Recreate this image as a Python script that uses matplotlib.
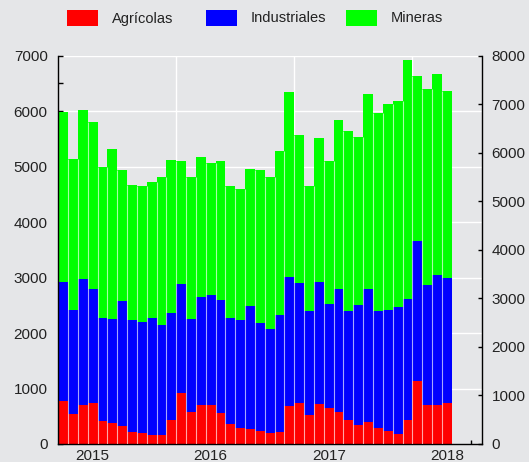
import matplotlib
matplotlib.use("Agg")
import matplotlib.pyplot as plt
from matplotlib.ticker import FixedLocator, MultipleLocator
from matplotlib.patches import Rectangle
import numpy as np

# Monthly data, Oct 2014 .. Jan 2018
months = ["2014-10", "2014-11", "2014-12",
          "2015-01", "2015-02", "2015-03", "2015-04", "2015-05", "2015-06",
          "2015-07", "2015-08", "2015-09", "2015-10", "2015-11", "2015-12",
          "2016-01", "2016-02", "2016-03", "2016-04", "2016-05", "2016-06",
          "2016-07", "2016-08", "2016-09", "2016-10", "2016-11", "2016-12",
          "2017-01", "2017-02", "2017-03", "2017-04", "2017-05", "2017-06",
          "2017-07", "2017-08", "2017-09", "2017-10", "2017-11", "2017-12",
          "2018-01"]

agricolas = [773, 548, 702, 732, 414, 372, 330, 216, 198, 160, 160, 432, 928, 582,
             698, 710, 559, 354, 294, 270, 234, 200, 216, 691, 740, 520, 728, 643,
             577, 427, 346, 391, 283, 228, 186, 427, 1130, 710, 704, 740]

industriales = [2155, 1871, 2268, 2070, 1855, 1885, 2239, 2012, 2006, 2109, 1984, 1933,
                1964, 1675, 1949, 1979, 2034, 1915, 1934, 2221, 1946, 1880, 2111, 2322,
                2164, 1879, 2194, 1889, 2219, 1972, 2168, 2405, 2116, 2189, 2279, 2189,
                2524, 2164, 2345, 2255]

mineras = [3064, 2715, 3052, 3010, 2733, 3063, 2379, 2444, 2456, 2451, 2672, 2763,
           2218, 2559, 2529, 2385, 2517, 2391, 2378, 2475, 2768, 2736, 2957, 3327,
           2674, 2261, 2590, 2566, 3040, 3251, 3022, 3514, 3563, 3719, 3713, 4306,
           2986, 3532, 3627, 3369]

year_labels = ["2015", "2016", "2017", "2018"]
series_names = ["Agrícolas", "Industriales", "Mineras"]
colors = ["#ff0000", "#0000ff", "#00ff00"]

plt.rcParams['font.family'] = ['Liberation Sans', 'DejaVu Sans']
BG = "#e5e6e8"
TXT = "#222222"

fig = plt.figure(figsize=(5.29, 4.62), dpi=100, facecolor=BG)
ax = fig.add_axes([0.110, 0.039, 0.8006, 0.8404], facecolor=BG)

x = np.arange(len(months))
a = np.array(agricolas)
b = np.array(industriales)
c = np.array(mineras)
w = 1.0
ax.bar(x, a, width=w, color=colors[0], zorder=2, linewidth=0)
ax.bar(x, b, width=w, bottom=a, color=colors[1], zorder=2, linewidth=0)
ax.bar(x, c, width=w, bottom=a + b, color=colors[2], zorder=2, linewidth=0)

# pale separators between adjacent bars
tot = a + b + c
sep_x = x[:-1] + 0.5
sep_top = np.minimum(tot[:-1], tot[1:])
ax.vlines(sep_x, 0, sep_top, colors="white", alpha=0.65, linewidth=0.8, zorder=3)

ax.set_xlim(-0.5, 42.55)
ax.set_ylim(0, 7000)

# gridlines
for v in range(1000, 7001, 1000):
    ax.axhline(v, color="white", lw=1.0, zorder=0.5)
for v in [11.5, 23.5, 35.5]:
    ax.axvline(v, color="white", lw=1.0, zorder=0.5)

# x axis: year labels at January bars
jan_idx = [months.index(f"{y}-01") for y in year_labels]
ax.xaxis.set_major_locator(FixedLocator(jan_idx))
ax.set_xticklabels(year_labels)
ax.xaxis.set_minor_locator(FixedLocator([41.5]))
ax.tick_params(axis="x", which="major", length=0, pad=3.5, labelsize=11, labelcolor=TXT)
ax.tick_params(axis="x", which="minor", direction="in", length=3, width=1, color="black")

ax.yaxis.set_major_locator(MultipleLocator(1000))
ax.yaxis.set_minor_locator(MultipleLocator(500))
ax.tick_params(axis="y", which="both", direction="in", length=3.5, width=1, color="black",
               labelsize=11, labelcolor=TXT, pad=7.6)

for s in ["top", "right"]:
    ax.spines[s].set_visible(False)
for s in ["left", "bottom"]:
    ax.spines[s].set_color("black")
    ax.spines[s].set_linewidth(1.0)

ax2 = ax.twinx()
ax2.set_ylim(0, 8000)
ax2.yaxis.set_major_locator(MultipleLocator(1000))
ax2.tick_params(axis="y", direction="in", length=3, width=1, color="black",
                labelsize=11, labelcolor=TXT, pad=7.2)
for s in ["top", "left", "bottom"]:
    ax2.spines[s].set_visible(False)
ax2.spines["right"].set_color("black")
ax2.spines["right"].set_linewidth(1.0)

# legend with equal-width columns
W, H = 529.0, 462.0
col_x0 = [67, 206, 346]
for x0, col, name in zip(col_x0, colors, series_names):
    fig.patches.append(Rectangle((x0 / W, 1 - 26 / H), 31 / W, 16 / H,
                                 transform=fig.transFigure, facecolor=col,
                                 edgecolor="none"))
    fig.text((x0 + 45) / W, 1 - 18.5 / H, name, fontsize=10.5, color=TXT,
             ha="left", va="center")

fig.savefig("out.png", dpi=100, facecolor=BG)
